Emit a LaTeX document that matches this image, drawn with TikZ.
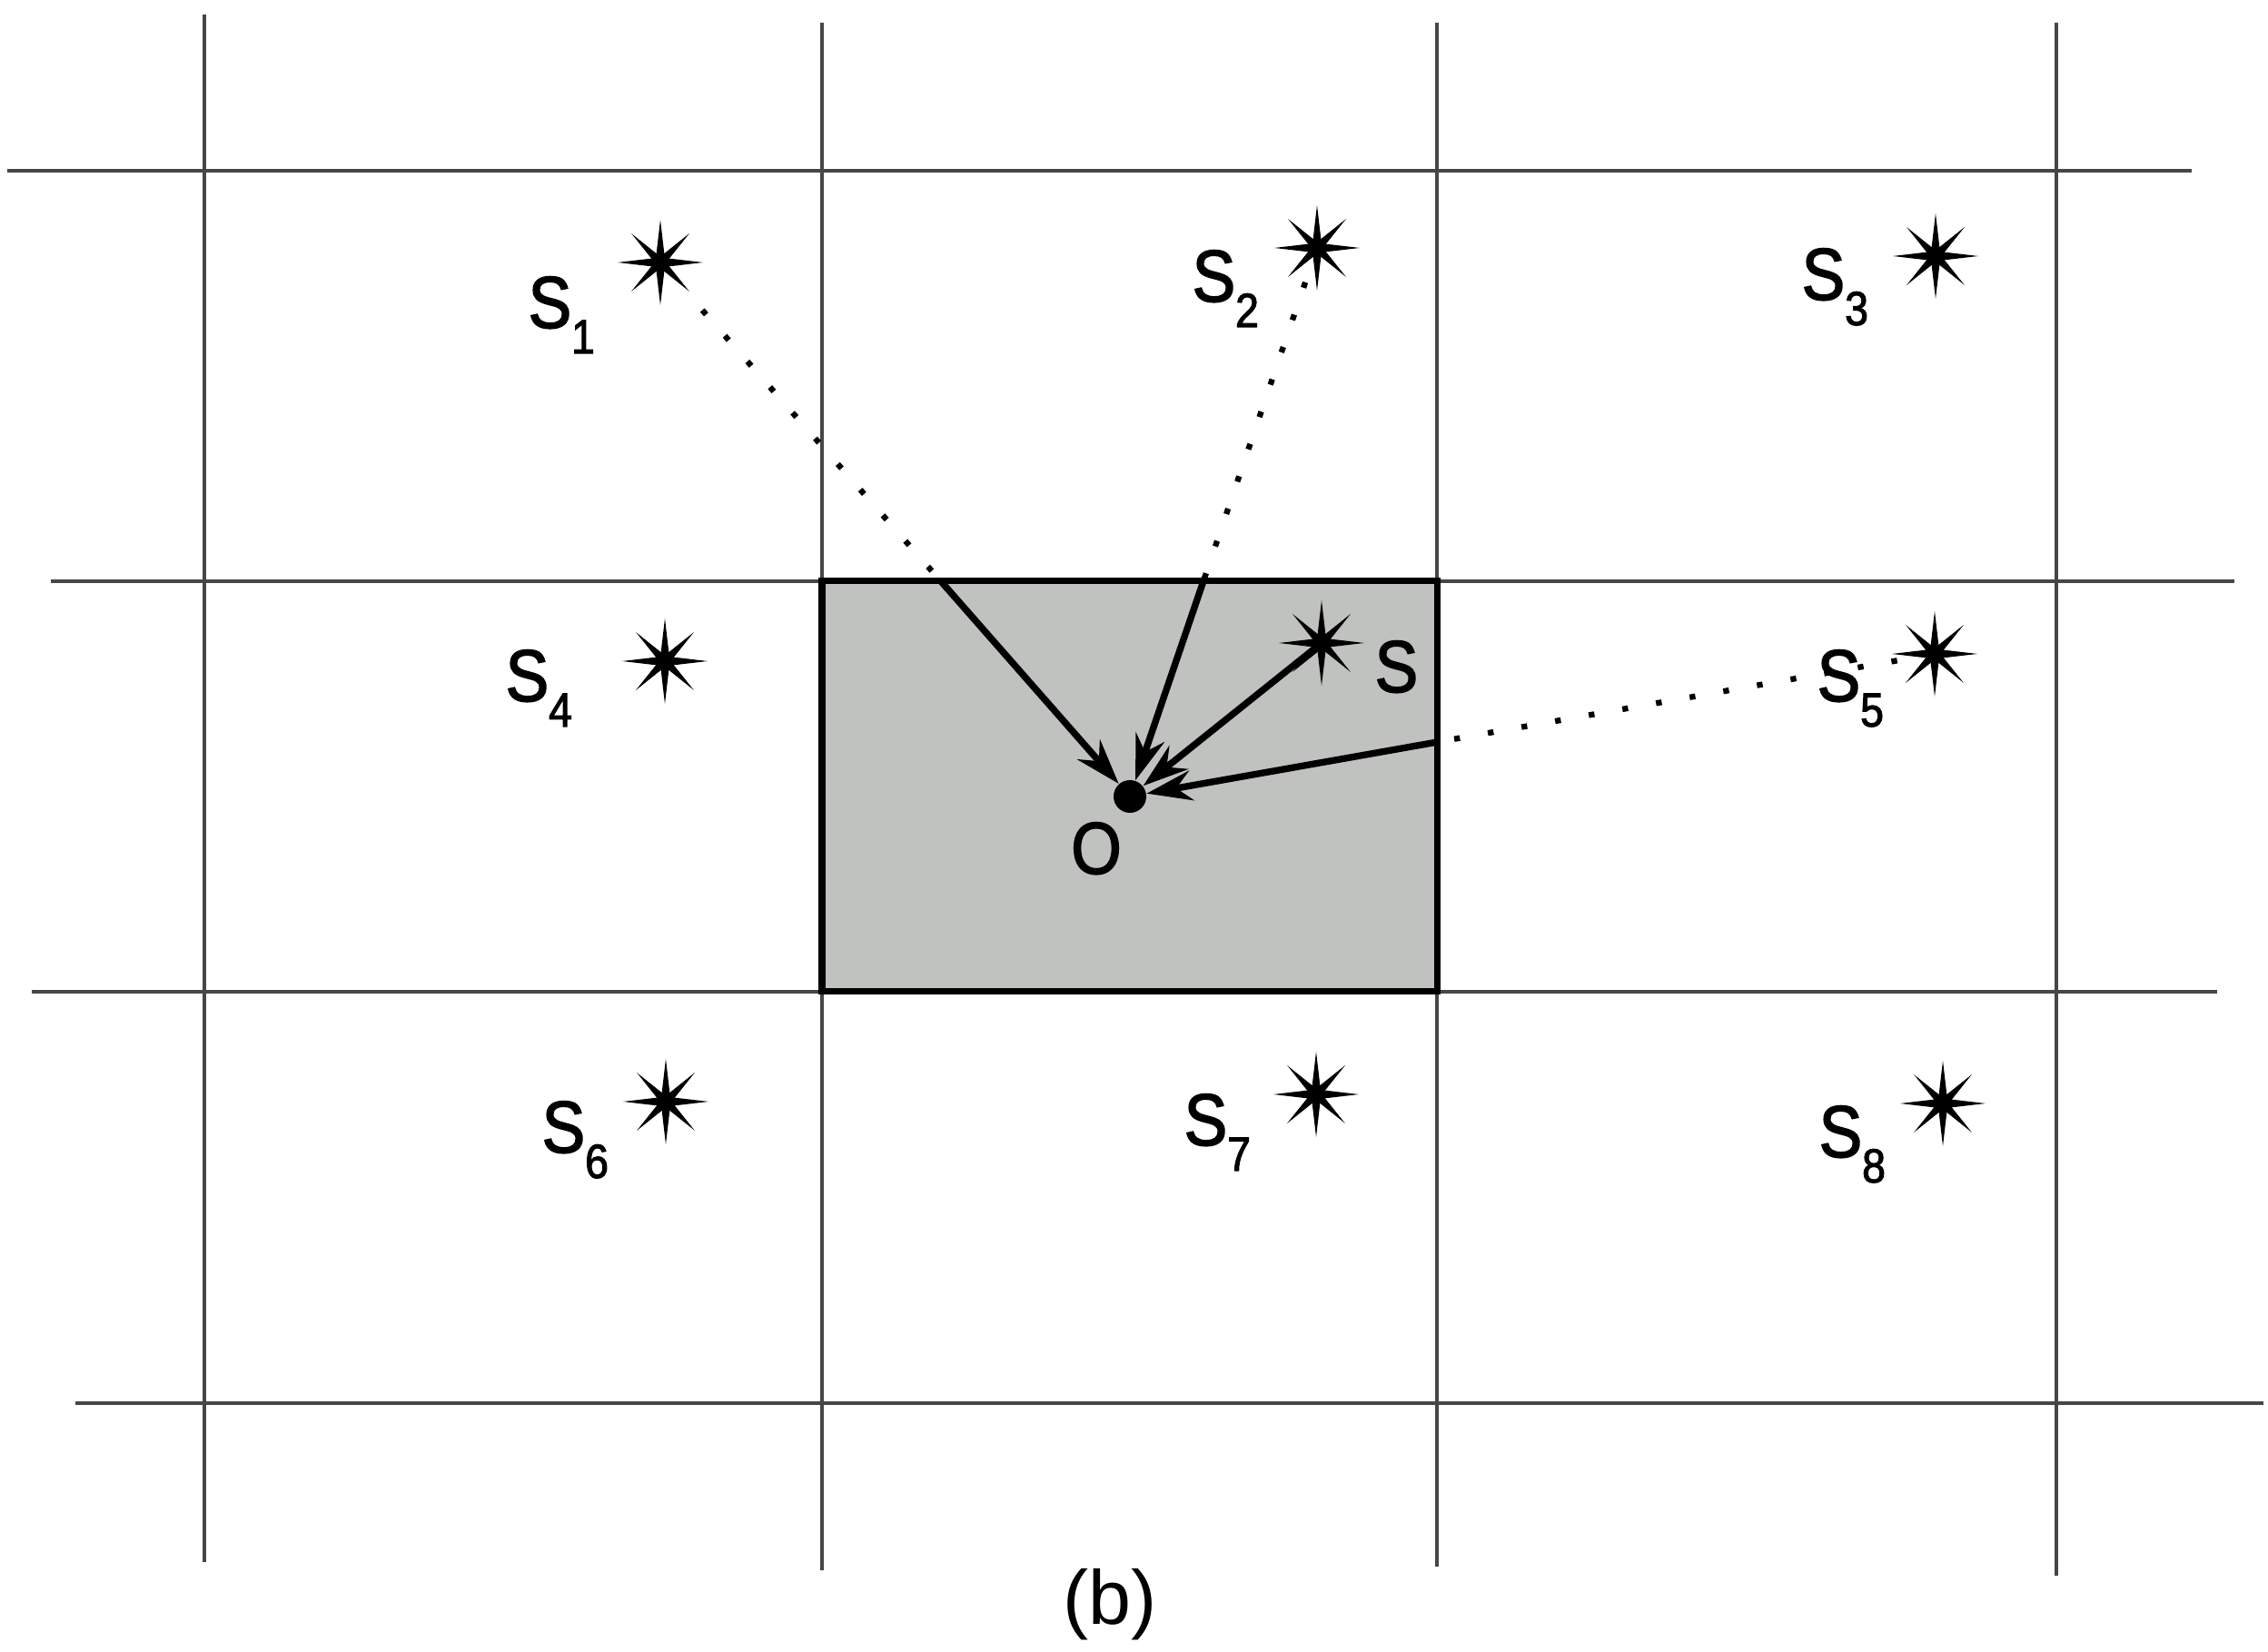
\documentclass[tikz,border=0pt]{standalone}
\usepackage{fontspec}
\setmainfont{Liberation Sans}
\newfontfamily\labfont{Liberation Sans}[FakeStretch=0.88,FakeBold=2]
\usetikzlibrary{arrows.meta,positioning,calc}

\definecolor{cellgray}{RGB}{192,194,191}
\definecolor{gridgray}{RGB}{70,70,70}
\newcommand{\srclab}[1]{S\raisebox{-0.28cm}{\fontsize{15}{15}\selectfont #1}}

\tikzset{
  gridline/.style={draw=gridgray, line width=1pt},
  dotline/.style={line width=1.8pt, dash pattern=on 1.8pt off 8.9pt},
  ray/.style={line width=2.1pt, -{Stealth[length=0.5cm,width=0.33cm,inset=0.17cm]}},
  slabel/.style={anchor=base west, inner sep=0pt, font=\labfont\fontsize{23}{27}\selectfont},
  odot/.style={circle, fill, inner sep=0pt, minimum size=0.36cm},
  starpic/.pic={
    \foreach \a in {0,90,180,270}
      \fill (\a:0.47) -- (\a+90:0.055) -- (\a-90:0.055) -- cycle;
    \foreach \a in {45,135,225,315}
      \fill (\a:0.45) -- (\a+90:0.05) -- (\a-90:0.05) -- cycle;
    \fill (0,0) circle (0.1);
  }
}

\begin{document}
\begin{tikzpicture}
\useasboundingbox (0,0) rectangle (24.97,18.19);

% grid
\draw[gridline] (2.25,18.03) -- (2.25,0.99);
\draw[gridline] (9.05,17.94) -- (9.05,0.90);
\draw[gridline] (15.82,17.94) -- (15.82,0.94);
\draw[gridline] (22.64,17.94) -- (22.64,0.84);

\draw[gridline] (0.08,16.31) -- (24.13,16.31);
\draw[gridline] (0.56,11.79) -- (24.60,11.79);
\draw[gridline] (0.35,7.27) -- (24.41,7.27);
\draw[gridline] (0.83,2.74) -- (24.92,2.74);

% observed cell
\coordinate (cnw) at (9.05,11.79);
\coordinate (cne) at (15.82,11.79);
\coordinate (cse) at (15.82,7.27);
\coordinate (csw) at (9.05,7.27);
\filldraw[fill=cellgray, line width=2pt] (csw) rectangle (cne);

% sources
\coordinate (s1) at (7.27,15.30);
\coordinate (s2) at (14.50,15.46);
\coordinate (s3) at (21.31,15.37);
\coordinate (s4) at (7.32,10.91);
\coordinate (s) at (14.55,11.11);
\coordinate (s5) at (21.30,10.99);
\coordinate (s6) at (7.33,6.06);
\coordinate (s7) at (14.49,6.14);
\coordinate (s8) at (21.39,6.04);

\node[odot] (o) at (12.44,9.42) {};

\coordinate (e1) at (intersection of s1--o and cnw--cne);
\coordinate (e2) at (intersection of s2--o and cnw--cne);
\coordinate (e5) at (intersection of s5--o and cne--cse);

\draw[dotline, shorten <=0.7cm] (s1) -- (e1);
\draw[dotline, shorten <=0.4cm] (s2) -- (e2);
\draw[dotline, shorten <=0.42cm] (s5) -- (e5);

\draw[ray] (e1) -- (o);
\draw[ray] (e2) -- (o);
\draw[ray] (s) -- (o);
\draw[ray] (e5) -- (o);

\foreach \p in {s1,s2,s3,s4,s,s5,s6,s7,s8}
  \pic at (\p) {starpic};

% labels
\node[slabel] (l1) at (5.81,14.58) {\srclab{1}};
\node[slabel] (l2) at (13.12,14.87) {\srclab{2}};
\node[slabel] (l3) at (19.83,14.89) {\srclab{3}};
\node[slabel] (l4) at (5.56,10.47) {\srclab{4}};
\node[slabel] (ls) at (15.13,10.57) {S};
\node[slabel] (l5) at (20.00,10.47) {\srclab{5}};
\node[slabel] (l6) at (5.96,5.50) {\srclab{6}};
\node[slabel] (l7) at (13.03,5.58) {\srclab{7}};
\node[slabel] (l8) at (20.02,5.45) {\srclab{8}};
\node[slabel, anchor=base] (lo) at (12.07,8.57) {O};

\node[anchor=base, inner sep=0pt, font=\fontsize{24}{28}\selectfont] (cap) at (12.22,0.30) {(b)};
\end{tikzpicture}
\end{document}
